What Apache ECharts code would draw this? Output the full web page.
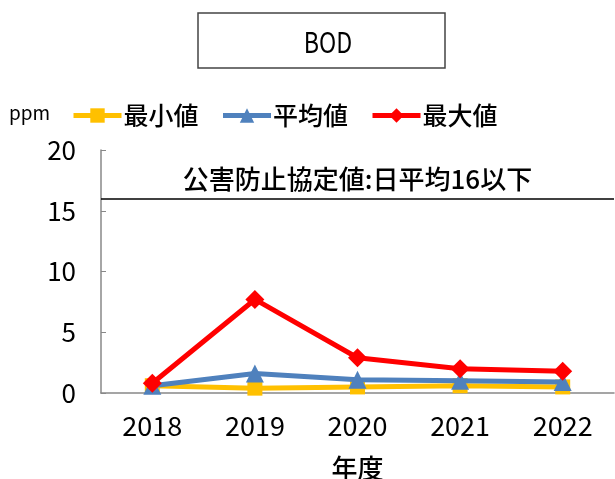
<!DOCTYPE html>
<html>
<head>
<meta charset="utf-8">
<script src="https://cdn.jsdelivr.net/npm/echarts@6/dist/echarts.min.js"></script>
<style>
  html, body { margin: 0; padding: 0; background: #fff; }
  #chart { width: 615px; height: 479px; }
</style>
</head>
<body>
<div id="chart"></div>
<script>
// 年度
const years = ['2018', '2019', '2020', '2021', '2022'];
// BOD (ppm)
const minVals = [0.6, 0.4, 0.5, 0.6, 0.5];
const avgVals = [0.6, 1.6, 1.1, 1.0, 0.9];
const maxVals = [0.8, 7.7, 2.9, 2.0, 1.8];
const limitVal = 16;
const yTicks = [0, 5, 10, 15, 20];

const font = '"Noto Sans CJK JP", "Noto Sans", sans-serif';
const chart = echarts.init(document.getElementById('chart'), null, { renderer: 'canvas' });

const lineSeries = (name, data, color, symbol, size, z) => ({
    name: name,
    type: 'line',
    data: data,
    symbol: symbol,
    symbolSize: size,
    z: z,
    lineStyle: { color: color, width: 5 },
    itemStyle: { color: color },
    emphasis: { disabled: true }
});

chart.setOption({
    animation: false,
    backgroundColor: '#fff',
    textStyle: { fontFamily: font },
    grid: { left: 101, right: 1, top: 150, bottom: 86, containLabel: false, outerBoundsMode: 'none' },
    legend: {
        left: 66,
        top: 98,
        itemWidth: 48,
        itemHeight: 18,
        itemGap: 22,
        lineStyle: { width: 5 },
        textStyle: { fontSize: 25, color: '#000', fontFamily: font, fontWeight: 500, padding: [0, 0, 0, -3] },
        data: ['最小値', '平均値', '最大値']
    },
    xAxis: {
        type: 'category',
        data: years,
        name: '年度',
        nameLocation: 'middle',
        nameGap: 62,
        nameTextStyle: { fontSize: 26, color: '#000', fontWeight: 500 },
        axisLine: { lineStyle: { color: '#888', width: 1.5 } },
        axisTick: { inside: true, length: 5, lineStyle: { color: '#888' } },
        axisLabel: { fontSize: 27, color: '#000', margin: 19 }
    },
    yAxis: {
        type: 'value',
        min: yTicks[0],
        max: yTicks[yTicks.length - 1],
        interval: 5,
        splitLine: { show: false },
        axisLine: { show: true, lineStyle: { color: '#888', width: 1.5 } },
        axisTick: { show: true, inside: true, length: 5, lineStyle: { color: '#888' } },
        axisLabel: { fontSize: 26, color: '#000', margin: 25 }
    },
    graphic: [
        {
            type: 'rect',
            shape: { x: 198, y: 13, width: 247, height: 55 },
            style: { fill: '#fff', stroke: '#444', lineWidth: 1.5 }
        },
        {
            type: 'text',
            x: 328, y: 42,
            scaleX: 0.8,
            style: { text: 'BOD', fontSize: 29, fontFamily: font, fill: '#000', align: 'center', verticalAlign: 'middle' }
        },
        {
            type: 'text',
            x: 9, y: 113,
            style: { text: 'ppm', fontSize: 19, fontFamily: font, fill: '#000', align: 'left', verticalAlign: 'middle' }
        }
    ],
    series: [
        lineSeries('最小値', minVals, '#FFC000', 'rect', 15, 2),
        lineSeries('平均値', avgVals, '#4F81BD', 'triangle', 18, 3),
        Object.assign(lineSeries('最大値', maxVals, '#FF0000', 'diamond', 19, 4), {
            markLine: {
                silent: true,
                symbol: 'none',
                lineStyle: { color: '#000', width: 1.5, type: 'solid' },
                label: {
                    position: 'insideMiddleTop',
                    formatter: '公害防止協定値:日平均16以下',
                    fontSize: 26,
                    color: '#000',
                    fontFamily: font,
                    fontWeight: 500,
                    distance: 6
                },
                data: [{ yAxis: limitVal }]
            }
        })
    ]
});
</script>
</body>
</html>
